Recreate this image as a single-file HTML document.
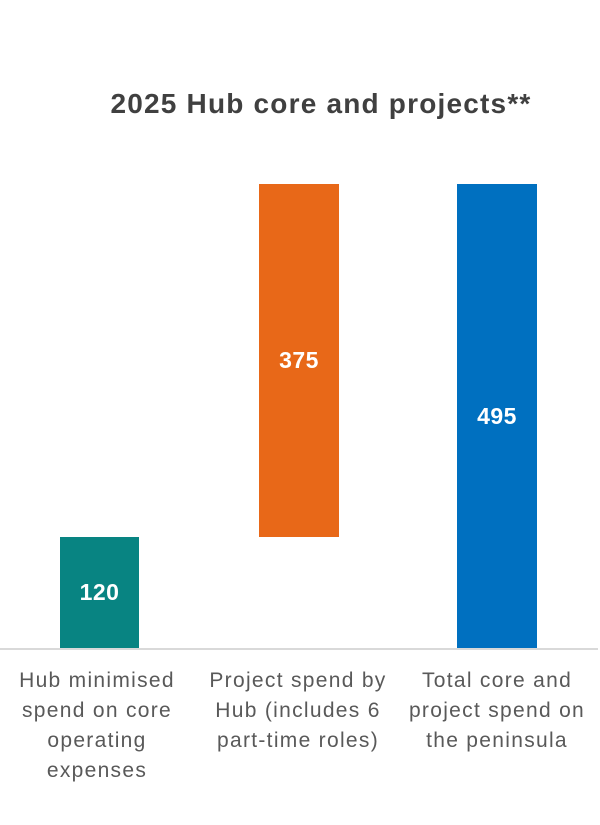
<!DOCTYPE html>
<html><head><style>
body{margin:0;width:600px;height:825px;background:#fff;position:relative;font-family:"Liberation Sans",sans-serif;overflow:hidden}
.t{position:absolute;left:0;width:642px;top:88px;text-align:center;font-weight:bold;font-size:28px;letter-spacing:1.2px;color:#404040}
.b{position:absolute;color:#fff;font-weight:bold;font-size:23px;letter-spacing:0.5px;display:flex;align-items:center;justify-content:center}
.l{position:absolute;top:666px;width:200px;text-align:center;color:#595959;font-size:21px;letter-spacing:1.3px;line-height:30px;white-space:nowrap}
</style></head><body>
<div class="t">2025 Hub core and projects**</div>
<div class="b" style="left:60px;width:79px;top:537px;height:111px;background:#088482">120</div>
<div class="b" style="left:259px;width:80px;top:184px;height:353px;background:#e86818">375</div>
<div class="b" style="left:457px;width:80px;top:184px;height:464px;background:#0070c0">495</div>
<div style="position:absolute;left:0;width:598px;top:648px;height:2px;background:#d9d9d9"></div>
<div class="l" style="left:-3px">Hub minimised<br>spend on core<br>operating<br>expenses</div>
<div class="l" style="left:198px">Project spend by<br>Hub (includes 6<br>part-time roles)</div>
<div class="l" style="left:397px">Total core and<br>project spend on<br>the peninsula</div>
</body></html>
